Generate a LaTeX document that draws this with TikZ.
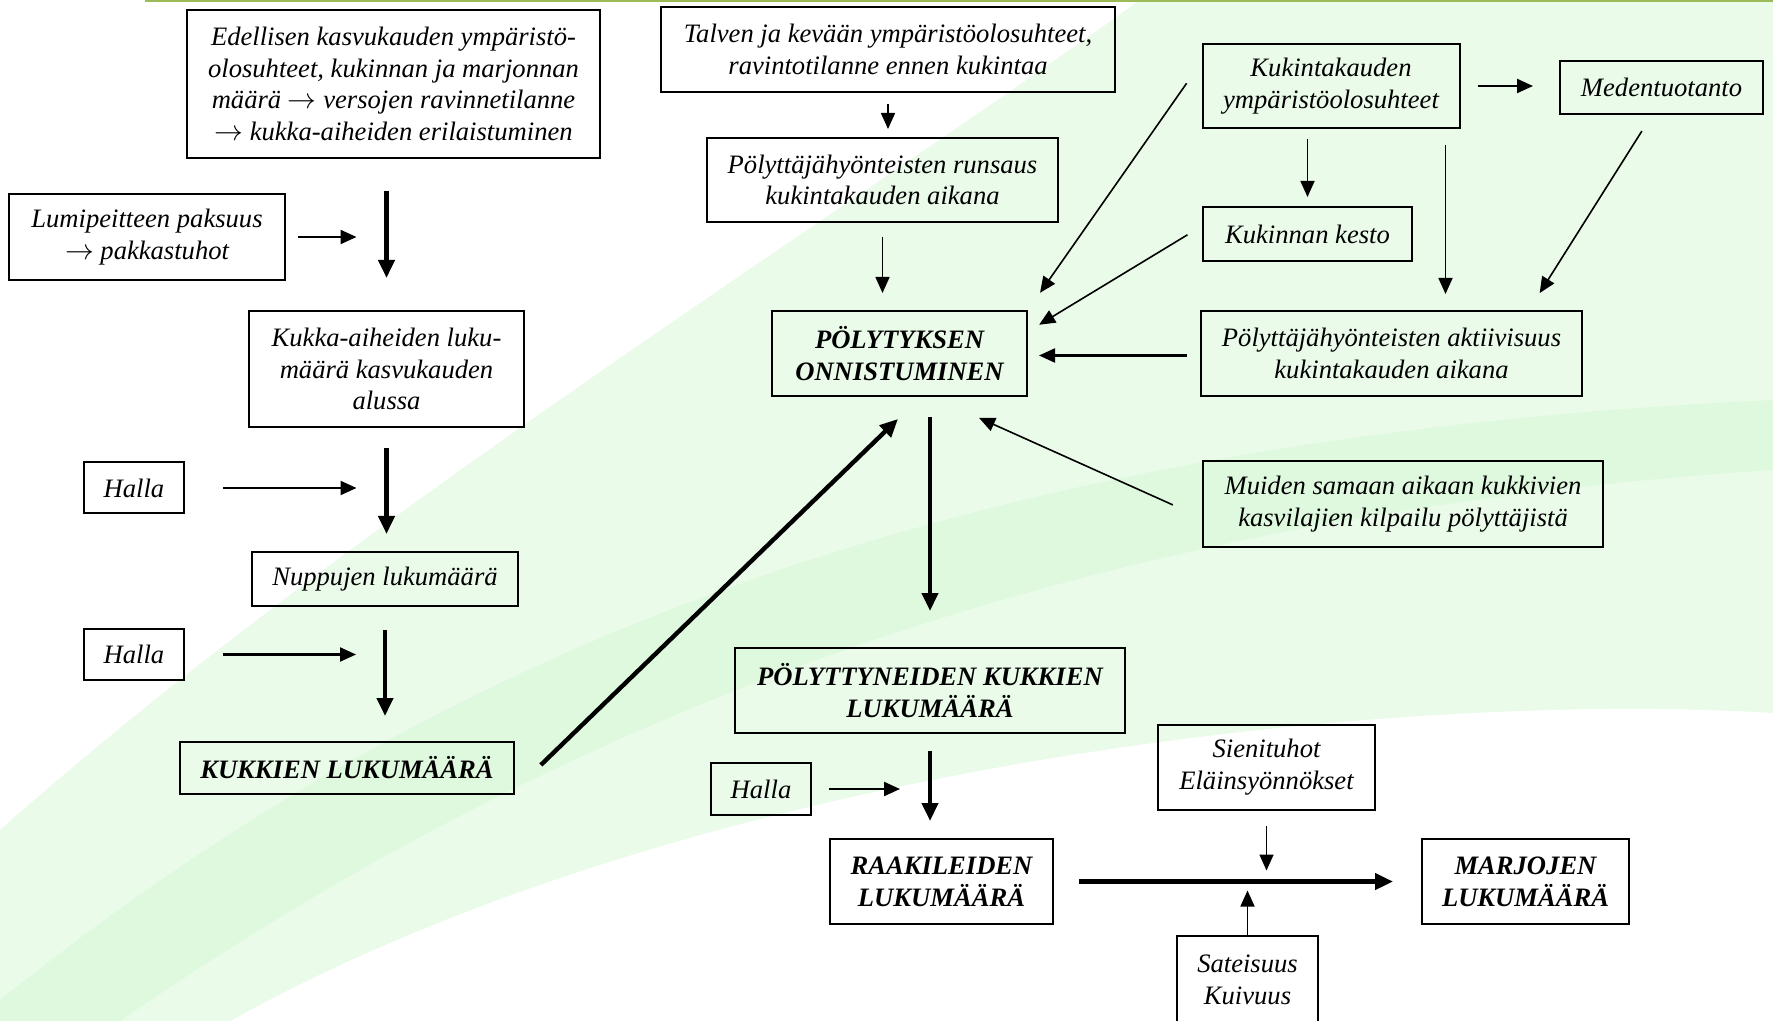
\documentclass[tikz,border=0pt]{standalone}
\usepackage{fontspec}
\setmainfont{Liberation Serif}
\usetikzlibrary{arrows.meta}

\definecolor{topline}{RGB}{155,187,89}
\definecolor{bandlight}{RGB}{234,251,234}
\definecolor{banddark}{RGB}{223,249,223}

\tikzset{
  box/.style={draw, line width=1pt, align=center, inner sep=0pt,
    font=\fontsize{13.3}{15.9}\selectfont\itshape},
  boldbox/.style={box, font=\fontsize{13.3}{15.9}\selectfont\bfseries\itshape},
  wh/.style 2 args={minimum width=#1*0.5pt, minimum height=#2*0.5pt},
  thinarrow/.style={line width=0.8pt, -{Triangle[length=8pt,width=7pt]}},
  midarrow/.style={line width=1.1pt, -{Triangle[length=8pt,width=7pt]}},
  bigarrow/.style={line width=2.2pt, -{Triangle[length=9pt,width=8pt]}},
  hugearrow/.style={line width=2.8pt, -{Triangle[length=9pt,width=8pt]}}
}

\begin{document}
\begin{tikzpicture}[x=0.5pt,y=-0.5pt]
\useasboundingbox (0,0) rectangle (1773,1021);
\fill[white] (0,0) rectangle (1773,1021);
% green swoosh in the background
\fill[bandlight] (0,830) .. controls (350,520) and (820,230) .. (1140,0) -- (1773,0) -- (1773,713)
  .. controls (1400,690) and (700,760) .. (230,1021) -- (0,1021) -- cycle;
\fill[banddark] (0,1000) .. controls (400,680) and (900,440) .. (1773,400) -- (1773,470)
  .. controls (1000,520) and (500,760) .. (120,1021) -- (0,1021) -- cycle;
\draw[topline, line width=1.5pt] (145,1) -- (1773,1);

% left column
\node[box, wh={413}{148}] (edellinen) at (393.5,84) {Edellisen kasvukauden ympäristö-\\olosuhteet, kukinnan ja marjonnan\\määrä $\rightarrow$ versojen ravinnetilanne\\$\rightarrow$ kukka-aiheiden erilaistuminen};
\node[box, wh={276}{86}] (lumi) at (147,237) {Lumipeitteen paksuus\\$\rightarrow$ pakkastuhot};
\node[box, wh={275}{116}] (aiheet) at (386.5,369) {Kukka-aiheiden luku-\\määrä kasvukauden\\alussa};
\node[box, wh={100}{51}] (halla1) at (134,488) {Halla};
\node[box, wh={266}{54}] (nuput) at (385,579) {Nuppujen lukumäärä};
\node[box, wh={100}{51}] (halla2) at (134,654.5) {Halla};
\node[boldbox, wh={334}{52}] (kukat) at (347,768) {KUKKIEN LUKUMÄÄRÄ};

% middle column
\node[box, wh={454}{85}] (talvi) at (888,49.5) {Talven ja kevään ympäristöolosuhteet,\\ravintotilanne ennen kukintaa};
\node[box, wh={351}{84}] (runsaus) at (882.5,180) {Pölyttäjähyönteisten runsaus\\kukintakauden aikana};
\node[boldbox, wh={255}{85}] (polytys) at (899.5,353.5) {PÖLYTYKSEN\\ONNISTUMINEN};
\node[boldbox, wh={390}{85}] (polyttyneet) at (930,690.5) {PÖLYTTYNEIDEN KUKKIEN\\LUKUMÄÄRÄ};
\node[box, wh={100}{52}] (halla3) at (761,789) {Halla};
\node[boldbox, wh={223}{85}] (raakileet) at (941.5,881.5) {RAAKILEIDEN\\LUKUMÄÄRÄ};

% right column
\node[box, wh={257}{84}] (kukinta) at (1331,86) {Kukintakauden\\ympäristöolosuhteet};
\node[box, wh={203}{53}] (mesi) at (1661.5,87.5) {Medentuotanto};
\node[box, wh={209}{54}] (kesto) at (1307.5,234) {Kukinnan kesto};
\node[box, wh={381}{85}] (aktiivisuus) at (1391.5,353.5) {Pölyttäjähyönteisten aktiivisuus\\kukintakauden aikana};
\node[box, wh={400}{86}] (kilpailu) at (1403,504) {Muiden samaan aikaan kukkivien\\kasvilajien kilpailu pölyttäjistä};
\node[box, wh={217}{85}] (sieni) at (1266.5,767.5) {Sienituhot\\Eläinsyönnökset};
\node[box, wh={141}{88}] (sade) at (1247.5,980) {Sateisuus\\Kuivuus};
\node[boldbox, wh={207}{85}] (marjat) at (1525.5,881.5) {MARJOJEN\\LUKUMÄÄRÄ};

% arrows, left
\draw[bigarrow, shorten <=16pt, shorten >=16pt] (aiheet.north |- edellinen.south) -- (aiheet.north) coordinate[midway] (p1);
\draw[midarrow, shorten <=6pt, shorten >=15pt] (lumi.east) -- (lumi.east -| p1);
\draw[bigarrow, shorten <=10pt, shorten >=8.5pt] (aiheet.south) -- (aiheet.south |- nuput.north) coordinate[midway] (p2);
\draw[midarrow, shorten <=19pt, shorten >=15pt] (halla1.east) -- (halla1.east -| p2);
\draw[bigarrow, shorten <=11.5pt, shorten >=12.5pt] (nuput.south) -- (nuput.south |- kukat.north) coordinate[midway] (p3);
\draw[midarrow, shorten <=19pt, shorten >=14.5pt] (halla2.east) -- (halla2.east -| p3);
\draw[bigarrow, shorten <=18pt, shorten >=15.8pt] ([yshift=-11pt]kukat.east) -- ([xshift=10.6pt]polytys.south);

% arrows, middle
\draw[thinarrow, shorten <=5.5pt, shorten >=4pt] (talvi.south) -- (talvi.south |- runsaus.north);
\draw[thinarrow, shorten <=7pt, shorten >=8.5pt] (runsaus.south) -- (runsaus.south |- polytys.north);
\draw[bigarrow, shorten <=10pt, shorten >=18pt] (polyttyneet.north |- polytys.south) -- (polyttyneet.north);
\draw[bigarrow, shorten <=8.5pt, shorten >=8.5pt] (polyttyneet.south) -- (polyttyneet.south |- raakileet.north) coordinate[midway] (p4);
\draw[midarrow, shorten <=8.5pt, shorten >=15pt] (halla3.east) -- (halla3.east -| p4);
\draw[hugearrow, shorten <=12.5pt, shorten >=14pt] (raakileet.east) -- (marjat.west);
\draw[thinarrow, shorten <=7.5pt, shorten >=5.5pt] (sieni.south) -- (sieni.south |- raakileet.east);
\draw[thinarrow, shorten >=4.5pt] (sade.north) -- (sade.north |- raakileet.east);

% arrows, right
\draw[midarrow, shorten <=8.5pt, shorten >=13pt] (kukinta.east) -- (kukinta.east -| mesi.west);
\draw[thinarrow, shorten <=5pt, shorten >=4.5pt] (kesto.north |- kukinta.south) -- (kesto.north);
\draw[thinarrow, shorten <=8pt, shorten >=8pt] ([xshift=-7.5pt]kukinta.south east) -- ([xshift=-7.5pt]kukinta.south east |- aktiivisuus.north);
\draw[thinarrow, shorten <=9.5pt, shorten >=10pt] ([xshift=-4.75pt]mesi.south) -- ([xshift=68.75pt]aktiivisuus.north);
\draw[thinarrow, shorten <=13pt, shorten >=10.5pt] ([yshift=12pt]kukinta.west) -- (polytys.north east);
\draw[thinarrow, shorten <=8.5pt, shorten >=6.5pt] ([yshift=4pt]kesto.west) -- ([yshift=11pt]polytys.east);
\draw[midarrow, shorten <=6.5pt, shorten >=5.5pt] ([yshift=-1pt]aktiivisuus.west) -- ([yshift=-1pt]polytys.east);
\draw[thinarrow, shorten <=16pt, shorten >=25.5pt] ([yshift=-7pt]kilpailu.west) -- ([xshift=16.5pt]polytys.south);
\end{tikzpicture}
\end{document}
